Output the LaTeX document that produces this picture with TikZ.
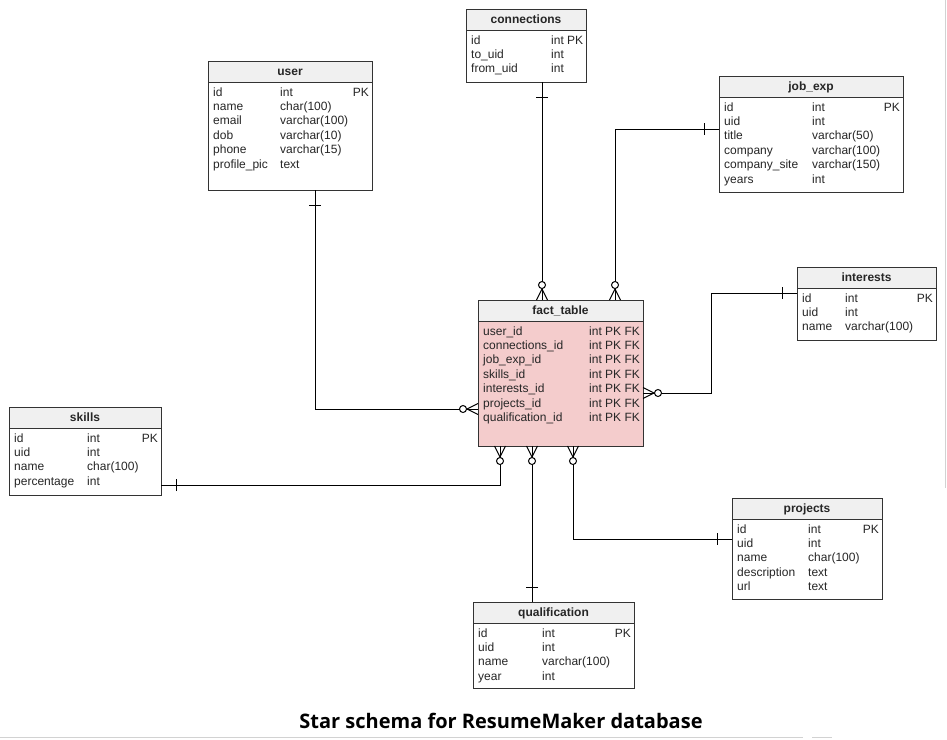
\documentclass[tikz,border=0pt]{standalone}
\usepackage{fontspec}
\setmainfont{Liberation Sans}
\newfontfamily\titlefont{Open Sans}
\definecolor{headfill}{RGB}{240,240,240}
\definecolor{factfill}{RGB}{244,204,204}
\definecolor{tborder}{RGB}{51,51,51}
\definecolor{faintgray}{RGB}{210,210,210}
\tikzset{
  tablebox/.style={draw=none, inner sep=0pt, outer sep=0pt, anchor=north west},
  tableline/.style={draw=tborder, line width=1pt},
  conline/.style={draw=black, line width=1pt},
  titletext/.style={font=\bfseries\fontsize{12}{14}\selectfont, inner sep=0pt, anchor=base, text=black!85},
  celltext/.style={font=\fontsize{12}{14}\selectfont, inner sep=0pt, anchor=base west, text=black!85},
  manymark/.pic={
    \draw[conline] (0pt,5.5pt) -- (11pt,0pt) -- (0pt,-5.5pt);
    \filldraw[conline, fill=white] (15pt,0pt) circle (3.5pt);
  },
  onemark/.pic={
    \draw[conline] (15pt,-6pt) -- (15pt,6pt);
  }
}
% name, x, y, w, h, title, type-column offset, rows, body fill
\newcommand{\ertable}[9]{%
  \node[tablebox, minimum width=#4pt, minimum height=#5pt, fill=#9] (#1) at (#2,#3) {};
  \fill[headfill] (#1.north west) rectangle ([yshift=-21pt]#1.north east);
  \draw[tableline] ([yshift=-21pt]#1.north west) -- ([yshift=-21pt]#1.north east);
  \draw[tableline] (#1.north west) rectangle (#1.south east);
  \node[titletext] at ([yshift=-14.5pt]#1.north) {#6};
  \foreach \cn/\ct/\ck [count=\ri] in {#8} {
    \node[celltext] at ([xshift=5pt, yshift={-35pt-(\ri-1)*14.4pt}]#1.north west) {\cn};
    \node[celltext] at ([xshift=#7pt, yshift={-35pt-(\ri-1)*14.4pt}]#1.north west) {\ct};
    \node[celltext, anchor=base east] at ([xshift=-3pt, yshift={-35pt-(\ri-1)*14.4pt}]#1.north east) {\ck};
  }%
}
\begin{document}
\begin{tikzpicture}[x=1pt, y=-1pt]
\useasboundingbox (0,0) rectangle (947,739);

% tables
\ertable{conn}{466}{9}{120}{73}{connections}{85}{id/int PK/{}, to\_uid/int/{}, from\_uid/int/{}}{white}
\ertable{user}{208}{61}{164}{129}{user}{72}{id/int/PK, name/char(100)/{}, email/varchar(100)/{}, dob/varchar(10)/{}, phone/varchar(15)/{}, profile\_pic/text/{}}{white}
\ertable{job}{719}{76}{184}{116}{job\_exp}{93}{id/int/PK, uid/int/{}, title/varchar(50)/{}, company/varchar(100)/{}, company\_site/varchar(150)/{}, years/int/{}}{white}
\ertable{inter}{797}{267}{139}{73}{interests}{48}{id/int/PK, uid/int/{}, name/varchar(100)/{}}{white}
\ertable{fact}{478}{300}{165}{146}{fact\_table}{111}{user\_id/int PK FK/{}, connections\_id/int PK FK/{}, job\_exp\_id/int PK FK/{}, skills\_id/int PK FK/{}, interests\_id/int PK FK/{}, projects\_id/int PK FK/{}, qualification\_id/int PK FK/{}}{factfill}
\ertable{skills}{9}{407}{152}{88}{skills}{78}{id/int/PK, uid/int/{}, name/char(100)/{}, percentage/int/{}}{white}
\ertable{proj}{732}{498}{150}{101}{projects}{76}{id/int/PK, uid/int/{}, name/char(100)/{}, description/text/{}, url/text/{}}{white}
\ertable{qual}{473}{602}{161}{86}{qualification}{69}{id/int/PK, uid/int/{}, name/varchar(100)/{}, year/int/{}}{white}

% routing coordinates
\coordinate (xc) at (542,0);
\coordinate (xj) at (615,0);
\coordinate (yj) at (0,129);
\coordinate (xu) at (315,0);
\coordinate (yu) at (0,409);
\coordinate (yi) at (0,293);
\coordinate (xi) at (711,0);
\coordinate (yi2) at (0,393);
\coordinate (ys) at (0,485);
\coordinate (xs) at (500,0);
\coordinate (xq) at (532,0);
\coordinate (yp) at (0,539);
\coordinate (xp) at (573,0);

% connectors
\draw[conline] (conn.south -| xc) -- (fact.north -| xc);
\draw[conline] (job.west |- yj) -| (fact.north -| xj);
\draw[conline] (user.south -| xu) |- (fact.west |- yu);
\draw[conline] (inter.west |- yi) -| (xi |- yi2) -- (fact.east |- yi2);
\draw[conline] (skills.east |- ys) -| (fact.south -| xs);
\draw[conline] (qual.north -| xq) -- (fact.south -| xq);
\draw[conline] (proj.west |- yp) -| (fact.south -| xp);

% end marks
\pic[rotate=-90] at (conn.south -| xc) {onemark};
\pic[rotate=90] at (fact.north -| xc) {manymark};
\pic[rotate=180] at (job.west |- yj) {onemark};
\pic[rotate=90] at (fact.north -| xj) {manymark};
\pic[rotate=-90] at (user.south -| xu) {onemark};
\pic[rotate=180] at (fact.west |- yu) {manymark};
\pic[rotate=180] at (inter.west |- yi) {onemark};
\pic at (fact.east |- yi2) {manymark};
\pic at (skills.east |- ys) {onemark};
\pic[rotate=-90] at (fact.south -| xs) {manymark};
\pic[rotate=90] at (qual.north -| xq) {onemark};
\pic[rotate=-90] at (fact.south -| xq) {manymark};
\pic[rotate=180] at (proj.west |- yp) {onemark};
\pic[rotate=-90] at (fact.south -| xp) {manymark};

% caption
\node[font=\titlefont\bfseries\fontsize{20}{24}\selectfont, inner sep=0pt, anchor=base] (title) at (501,728) {Star schema for ResumeMaker database};

% faint screenshot edges
\draw[faintgray, line width=1.5pt] (0,737.5) -- (803,737.5);
\draw[faintgray, line width=1.5pt] (812,737.5) -- (832,737.5);
\draw[faintgray, line width=1.5pt] (945.5,0) -- (945.5,488);
\end{tikzpicture}
\end{document}
